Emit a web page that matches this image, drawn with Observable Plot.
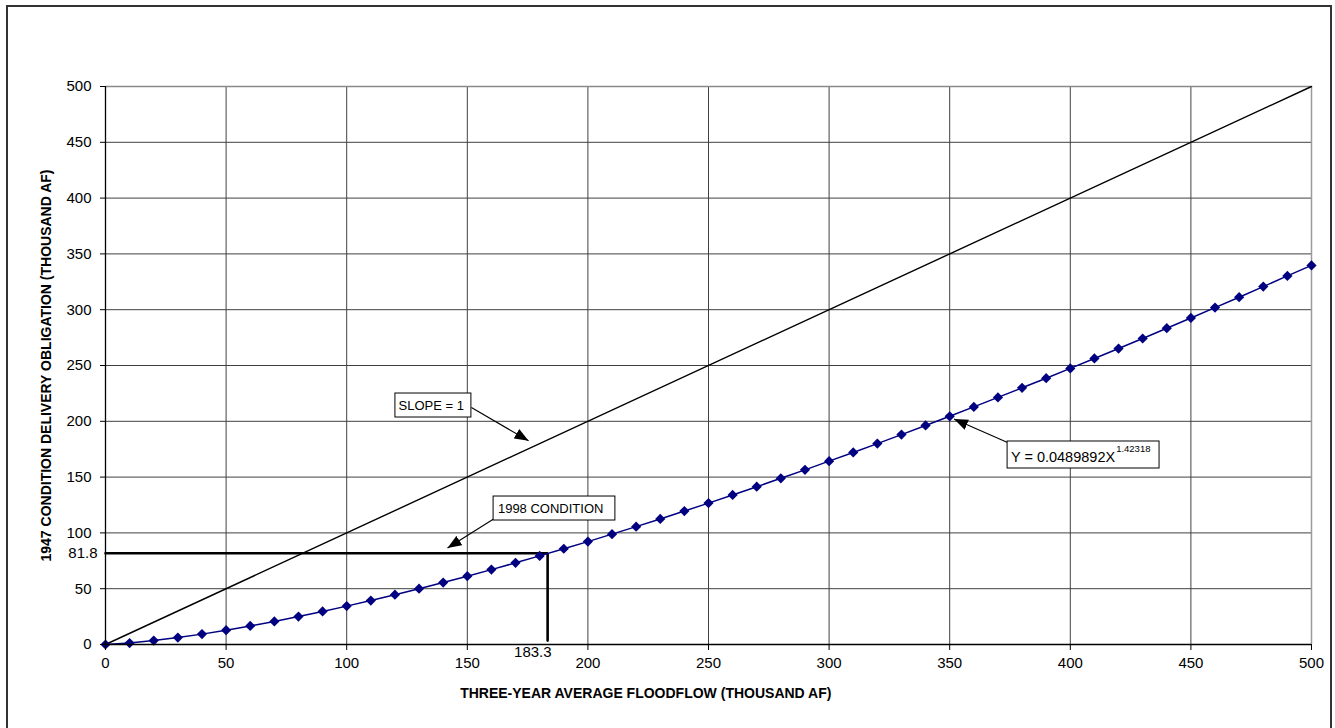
<!DOCTYPE html>
<html><head><meta charset="utf-8">
<script src="https://cdn.jsdelivr.net/npm/d3@7"></script>
<script src="https://cdn.jsdelivr.net/npm/@observablehq/plot@0.6"></script>
<style>
body{margin:0;background:#fff;}
#wrap{position:relative;width:1335px;height:728px;overflow:hidden;background:#fff;font-family:"Liberation Sans",Arial,sans-serif;}
#border{position:absolute;left:6px;top:5px;width:1326px;height:760px;border:2px solid #333;box-sizing:border-box;pointer-events:none;}
svg{display:block;}
</style></head><body><div id="wrap"><div id="border"></div></div>
<script>
// Three-year average floodflow (thousand AF)
const floodflow = [0,10,20,30,40,50,60,70,80,90,100,110,120,130,140,150,160,170,180,190,200,
  210,220,230,240,250,260,270,280,290,300,310,320,330,340,350,360,370,380,390,400,
  410,420,430,440,450,460,470,480,490,500];
// 1947 condition delivery obligation (thousand AF)
const obligation = [0,1.3,3.5,6.2,9.3,12.8,16.6,20.7,25.0,29.6,34.4,39.4,44.6,50.0,55.5,61.2,67.1,73.2,79.4,85.8,92.2,
  98.9,105.6,112.5,119.6,126.7,134.0,141.4,148.9,156.5,164.3,172.1,180.0,188.1,196.3,204.5,212.9,221.4,230.0,238.6,247.4,
  256.3,265.2,274.2,283.4,292.6,301.9,311.2,320.7,330.3,339.7];
const slopeOne = [0, 500];
const xTicks = [0,50,100,150,200,250,300,350,400,450,500];
const yTicks = [0,50,100,150,200,250,300,350,400,450,500];
const condFlow = 183.3;
const condObligation = 81.8;
const xTitle = "THREE-YEAR AVERAGE FLOODFLOW (THOUSAND AF)";
const yTitle = "1947 CONDITION DELIVERY OBLIGATION (THOUSAND AF)";
const slopeText = "SLOPE = 1";
const condText = "1998 CONDITION";
const eqMain = "Y = 0.0489892X";
const eqExp = "1.42318";

const series = floodflow.map((f, i) => ({f, o: obligation[i]}));
const slopePts = slopeOne.map(v => ({f: v, o: v}));
const condPath = [{f: 0, o: condObligation}, {f: condFlow, o: condObligation}, {f: condFlow, o: 3.5}];

const boxes = [
  {x1: 120.2, x2: 151.7, y1: 203.4, y2: 224.9},
  {x1: 160.9, x2: 211.4, y1: 111.1, y2: 132.6},
  {x1: 374.0, x2: 437.0, y1: 157.7, y2: 181.9}
];
const arrows = [
  {x1: 151.7, y1: 212.4, x2: 175.4, y2: 182.5},
  {x1: 160.9, y1: 112.5, x2: 141.8, y2: 86.5},
  {x1: 374.0, y1: 181.0, x2: 351.8, y2: 202.0}
];

const chart = Plot.plot({
  width: 1335, height: 728,
  marginLeft: 105, marginRight: 24, marginTop: 86, marginBottom: 84,
  style: {fontFamily: '"Liberation Sans", Arial, sans-serif', background: "transparent"},
  x: {domain: [0, 500]},
  y: {domain: [0, 500]},
  marks: [
    Plot.gridX(xTicks, {stroke: "#404040", strokeOpacity: 1}),
    Plot.gridY(yTicks, {stroke: "#404040", strokeOpacity: 1}),
    Plot.ruleY([500], {stroke: "#8a8a8a", strokeWidth: 1.5}),
    Plot.ruleX([500], {stroke: "#9a9a9a", strokeWidth: 1.5}),
    Plot.line(slopePts, {x: "f", y: "o", stroke: "#000", strokeWidth: 1.4}),
    Plot.line(condPath, {x: "f", y: "o", stroke: "#000", strokeWidth: 2.6, strokeLinejoin: "miter"}),
    Plot.line(series, {x: "f", y: "o", stroke: "#000080", strokeWidth: 1.5}),
    Plot.dot(series, {x: "f", y: "o", symbol: "diamond2", r: 4.6, fill: "#000080", stroke: "none"}),
    Plot.link(arrows, {x1: "x1", y1: "y1", x2: "x2", y2: "y2", stroke: "#000", strokeWidth: 1.1, className: "annarrow"}),
    Plot.rect(boxes, {x1: "x1", x2: "x2", y1: "y1", y2: "y2", fill: "#fff", stroke: "#000", strokeWidth: 1}),
    Plot.text([slopeText], {x: 121.5, y: 214.2, text: d => d, textAnchor: "start", fontSize: 13, fill: "#000"}),
    Plot.text([condText], {x: 162.7, y: 121.9, text: d => d, textAnchor: "start", fontSize: 13, fill: "#000"}),
    Plot.text([eqMain], {x: 375.4, y: 168.0, text: d => d, textAnchor: "start", fontSize: 14.5, fill: "#000"}),
    Plot.text([eqExp], {x: 419.0, y: 175.0, text: d => d, textAnchor: "start", fontSize: 9.5, fill: "#000"}),
    Plot.text([condObligation], {x: 0, y: condObligation, text: d => d.toFixed(1), textAnchor: "end", dx: -8, fontSize: 15, fill: "#000"}),
    Plot.text([condFlow], {x: condFlow, y: 0, text: d => d.toFixed(1), textAnchor: "end", dx: 4, dy: 2, lineAnchor: "top", fontSize: 15, fill: "#000"}),
    Plot.ruleX([0], {stroke: "#000", strokeWidth: 1.3}),
    Plot.ruleY([0], {stroke: "#000", strokeWidth: 1.3}),
    Plot.axisX(xTicks, {tickSize: 6, tickPadding: 7, fontSize: 15, label: null, stroke: "#000", tickFormat: d => String(d)}),
    Plot.axisY(yTicks, {tickSize: 5, tickPadding: 9, fontSize: 15, label: null, stroke: "#000", tickFormat: d => String(d)}),
    Plot.text([xTitle], {x: 224, frameAnchor: "bottom", textAnchor: "middle", dy: 53, text: d => d, fontSize: 14, fontWeight: "bold", fill: "#000"}),
    Plot.text([yTitle], {y: 250, frameAnchor: "left", textAnchor: "middle", dx: -59, rotate: -90, text: d => d, fontSize: 14, fontWeight: "bold", fill: "#000"})
  ]
});

// filled triangular arrowheads
const svg = d3.select(chart);
const defs = svg.insert("defs", ":first-child");
defs.append("marker")
  .attr("id", "tri")
  .attr("viewBox", "0 0 14 11")
  .attr("markerUnits", "userSpaceOnUse")
  .attr("markerWidth", 14).attr("markerHeight", 11)
  .attr("refX", 14).attr("refY", 5.5)
  .attr("orient", "auto")
  .append("path").attr("d", "M0,0L14,5.5L0,11Z").attr("fill", "#000");
svg.selectAll(".annarrow path").attr("marker-end", "url(#tri)");

document.getElementById("wrap").insertBefore(chart, document.getElementById("border"));
</script>
</body></html>
